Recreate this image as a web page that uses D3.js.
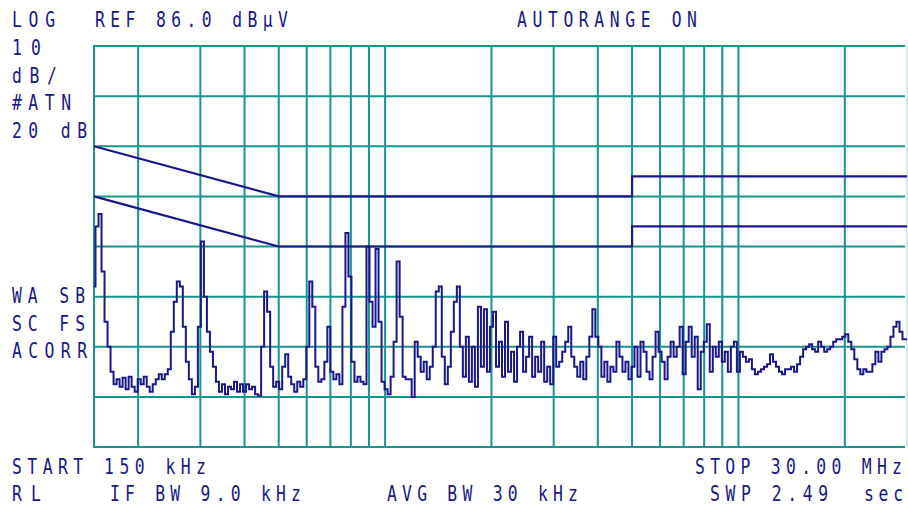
<!DOCTYPE html>
<html>
<head>
<meta charset="utf-8">
<script src="https://cdn.jsdelivr.net/npm/d3@7"></script>
<style>
  body { margin: 0; background: #fff; }
  svg { display: block; }
</style>
</head>
<body>
<svg id="svg" width="908" height="513"></svg>
<script>
// sweep: 150 kHz .. 30 MHz, log, 10 dB/div from REF 86 dBuV
const startMHz = 0.15, stopMHz = 30;
const refLevel = 86, dbPerDiv = 10, divisions = 8;
const gridFreqs = [0.2, 0.3, 0.4, 0.5, 0.6, 0.7, 0.8, 0.9, 1, 2, 3, 4, 5, 6, 7, 8, 9, 10, 20];

// limit lines (QP / AV), [MHz, dBuV]
const qpLimit = [[0.15, 66], [0.5, 56], [5, 56], [5, 60], [30, 60]];
const avLimit = [[0.15, 56], [0.5, 46], [5, 46], [5, 50], [30, 50]];

// measured trace, dBuV, sweep points evenly spaced in log f
const traceDb = [
  38, 50, 52.5, 41, 31, 26, 21, 18.5, 19.5, 18, 19.8, 17.5, 20, 18, 17, 19.5, 18.5, 20, 18, 17,
  18.5, 19.5, 20.5, 19.5, 20.5, 21.5, 29, 35, 39, 38, 30, 23, 19.5, 16.5, 18, 30, 47, 36, 29, 25,
  22, 19, 17, 18.5, 16.5, 18, 17.5, 19, 17, 18.5, 17, 18.5, 17.5, 18, 16.5, 16.2, 26, 37, 33, 22,
  18, 19, 17.5, 22, 24.5, 20, 18.5, 17, 19, 18, 19.5, 26, 39, 34, 22, 19, 19.5, 23, 30, 21,
  19.5, 20.5, 18.5, 34, 48.7, 40, 23, 19, 20, 19, 18.5, 46, 35, 30, 45.5, 31, 19, 17.5, 16.5, 20,
  27, 43, 32, 20, 19.5, 19.5, 16, 27, 24, 21, 23, 19.5, 22, 26, 37, 38, 24, 18.5, 22, 29,
  35, 38, 26, 20, 28, 19, 26, 18, 34, 22, 33.5, 21, 30, 33, 22, 27, 20, 31, 21, 25,
  19, 26, 29, 21, 24, 28, 20, 24, 21, 27, 19, 22, 18.5, 28, 22, 23, 25, 27, 30, 24,
  22, 20, 23, 19.5, 24, 28, 33.5, 28, 26, 20, 23, 19, 22, 21, 27, 24, 21, 23, 19.5, 22,
  26, 20, 27, 25, 21, 19.5, 24, 29, 25, 23, 19.5, 24, 27, 24, 26, 30, 20.5, 27, 30, 24,
  28, 17.5, 25, 27, 30.5, 21, 26, 24, 27, 23, 25, 21, 26, 27, 21, 25, 24, 23, 23.5, 21.5,
  20.5, 21, 21.5, 22, 22.5, 24.5, 23, 22, 21, 20.5, 21.5, 21.5, 22, 21, 22.5, 24, 25.5, 26, 26.5, 25.5,
  25, 27, 26, 25, 25.5, 26, 27, 27.5, 27.5, 28, 28.5, 27, 25.5, 23.5, 21.5, 20.5, 21.5, 21, 21, 22.5,
  25, 23, 25, 25.5, 26, 28, 30, 31, 29, 27.5, 27.5
];

// annotation texts: [text, left x, baseline y, ink width]
const labels = [
  ["LOG", 12, 27, 42],
  ["REF 86.0 dBµV", 95, 27, 192],
  ["AUTORANGE ON", 517, 27, 179],
  ["10", 12, 55, 28],
  ["dB/", 12, 83, 44],
  ["#ATN", 12, 110, 58],
  ["20 dB", 12, 138, 74],
  ["WA SB", 12, 303, 72],
  ["SC FS", 12, 331, 72],
  ["ACORR", 12, 358, 74],
  ["START 150 kHz", 12, 474, 193],
  ["RL", 12, 501, 28],
  ["IF BW 9.0 kHz", 110, 501, 190],
  ["AVG BW 30 kHz", 387, 501, 190],
  ["STOP 30.00 MHz", 695, 474, 206],
  ["SWP 2.49", 710, 501, 117],
  ["sec", 864, 501, 38]
];

const gridColor = "#14958f";
const inkColor = "#18188a";

const x = d3.scaleLog().domain([startMHz, stopMHz]).range([94, 907]);
const y = d3.scaleLinear()
  .domain([refLevel - dbPerDiv * divisions, refLevel])
  .range([447, 46]);

const svg = d3.select("#svg");

// grid
const hLevels = d3.range(divisions + 1).map(i => refLevel - i * dbPerDiv);
svg.append("g")
  .selectAll("line")
  .data(hLevels)
  .join("line")
  .attr("x1", x(startMHz))
  .attr("x2", x(stopMHz) - 2)
  .attr("y1", d => y(d))
  .attr("y2", d => y(d))
  .attr("stroke", gridColor)
  .attr("stroke-width", 2);

svg.append("g")
  .selectAll("line")
  .data([startMHz, ...gridFreqs])
  .join("line")
  .attr("x1", d => x(d))
  .attr("x2", d => x(d))
  .attr("y1", y(refLevel) - 1)
  .attr("y2", y(refLevel - dbPerDiv * divisions) + 1)
  .attr("stroke", gridColor)
  .attr("stroke-width", 2);

// faint right border
svg.append("line")
  .attr("x1", x(stopMHz)).attr("x2", x(stopMHz))
  .attr("y1", y(refLevel)).attr("y2", y(refLevel - dbPerDiv * divisions))
  .attr("stroke", "#a8d8d4")
  .attr("stroke-width", 1);

// limit lines
const limLine = d3.line().x(d => x(d[0])).y(d => y(d[1]));
svg.append("g")
  .selectAll("path")
  .data([qpLimit, avLimit])
  .join("path")
  .attr("d", limLine)
  .attr("fill", "none")
  .attr("stroke", inkColor)
  .attr("stroke-width", 2.2);

// trace
const n = traceDb.length;
const freqAt = i => startMHz * Math.pow(stopMHz / startMHz, i / (n - 1));
const traceLine = d3.line()
  .curve(d3.curveStep)
  .x((d, i) => x(freqAt(i)))
  .y(d => y(d));
svg.append("path")
  .datum(traceDb)
  .attr("d", traceLine)
  .attr("fill", "none")
  .attr("stroke", inkColor)
  .attr("stroke-width", 2)
  .attr("stroke-linejoin", "miter");

// texts
const sx = 0.8;
svg.append("g")
  .selectAll("g")
  .data(labels)
  .join("g")
  .attr("transform", d => `translate(${d[1]},${d[2]}) scale(${sx},1)`)
  .append("text")
  .attr("font-family", "DejaVu Sans Mono")
  .attr("font-size", 20.5)
  .attr("fill", inkColor)
  .attr("textLength", d => (d[3] + 1) / sx)
  .attr("lengthAdjust", "spacing")
  .text(d => d[0]);
</script>
</body>
</html>
